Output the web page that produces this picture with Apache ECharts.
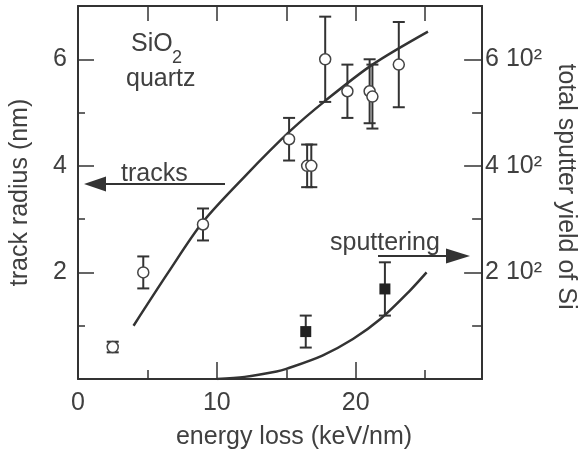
<!DOCTYPE html>
<html>
<head>
<meta charset="utf-8">
<script src="https://cdn.jsdelivr.net/npm/echarts@6/dist/echarts.min.js"></script>
<style>html,body{margin:0;padding:0;background:#fff;overflow:hidden}#c{width:586px;height:458px}</style>
</head>
<body>
<div id="c"></div>
<script>
// ---- data ----
const trackX   = [2.5, 4.7, 9.0, 15.2, 16.5, 16.8, 17.8, 19.4, 21.0, 21.2, 23.1];
const trackY   = [0.6, 2.0, 2.9, 4.5, 4.0, 4.0, 6.0, 5.4, 5.4, 5.3, 5.9];
const trackErr = [0.1, 0.3, 0.3, 0.4, 0.4, 0.4, 0.8, 0.5, 0.6, 0.6, 0.8];

const trackFitX = [4.0, 6.5, 9.0, 12.0, 15.3, 17.8, 21.2, 25.2];
const trackFitY = [1.0, 2.0, 2.95, 3.8, 4.66, 5.22, 5.9, 6.52];

const sputX   = [16.4, 22.1];
const sputY   = [89, 169];
const sputErr = [30, 50];

const sputFitX = [10, 12, 14.3, 15, 17.6, 19.8, 21.8, 23.8, 25.1];
const sputFitY = [0, 4, 14, 19, 44, 75, 113, 163, 200];

const xTicksMajor = [0, 10, 20];
const leftTickLabels = ['2', '4', '6'];
const rightTickLabels = ['2 10²', '4 10²', '6 10²'];

// ---- chart ----
const FONT = 'Liberation Sans, Arial, Helvetica, sans-serif';
const TXT = '#404040';
const LINE = '#333';
const FS = 25;

const zip = (a, b, c) => a.map((v, i) => c ? [v, b[i], c[i]] : [v, b[i]]);

function errRender(params, api) {
  const x = api.value(0), y = api.value(1), e = api.value(2);
  const t = api.coord([x, y + e]);
  const b = api.coord([x, y - e]);
  const w = 6;
  const st = {stroke: LINE, lineWidth: 2};
  return {type: 'group', children: [
    {type: 'line', shape: {x1: t[0], y1: t[1], x2: b[0], y2: b[1]}, style: st},
    {type: 'line', shape: {x1: t[0] - w, y1: t[1], x2: t[0] + w, y2: t[1]}, style: st},
    {type: 'line', shape: {x1: b[0] - w, y1: b[1], x2: b[0] + w, y2: b[1]}, style: st}
  ]};
}

const chart = echarts.init(document.getElementById('c'), null, {renderer: 'canvas'});
const axisLineStyle = {show: true, onZero: false, lineStyle: {color: LINE, width: 2}};
const noLine = {show: false, onZero: false};
const labelStyle = {color: TXT, fontSize: FS, fontFamily: FONT};

chart.setOption({
  animation: false,
  backgroundColor: '#fff',
  textStyle: {fontFamily: FONT},
  grid: {left: 78, right: 96, top: 6, bottom: 79},
  xAxis: [
    {type: 'value', position: 'bottom', min: 0, max: 29.1, interval: 10,
     axisLine: axisLineStyle, splitLine: {show: false},
     axisTick: {inside: true, length: 17, lineStyle: {color: LINE, width: 1.5}},
     axisLabel: Object.assign({margin: 12, showMaxLabel: false,
       formatter: v => xTicksMajor.includes(v) ? String(v) : ''}, labelStyle),
     name: 'energy loss (keV/nm)', nameLocation: 'middle', nameGap: 46,
     nameTextStyle: {color: TXT, fontSize: FS, fontFamily: FONT, padding: [0, 0, 0, 28]}},
    {type: 'value', position: 'bottom', min: 0, max: 29.1, interval: 5,
     axisLine: noLine, splitLine: {show: false}, axisLabel: {show: false},
     axisTick: {inside: true, length: 9, lineStyle: {color: LINE, width: 1.5}}},
    {type: 'value', position: 'top', min: 0, max: 29.1, interval: 5,
     axisLine: axisLineStyle, splitLine: {show: false}, axisLabel: {show: false},
     axisTick: {inside: true, length: 15, lineStyle: {color: LINE, width: 1.5}}}
  ],
  yAxis: [
    {type: 'value', position: 'left', min: 0, max: 7, interval: 2,
     axisLine: axisLineStyle, splitLine: {show: false},
     axisTick: {inside: true, length: 16, lineStyle: {color: LINE, width: 1.5}},
     axisLabel: Object.assign({margin: 11, showMinLabel: false, showMaxLabel: false,
       formatter: v => (v > 0 && v % 2 === 0 && v <= 6) ? leftTickLabels[v / 2 - 1] : ''}, labelStyle),
     name: 'track radius (nm)', nameLocation: 'middle', nameGap: 45,
     nameTextStyle: {color: TXT, fontSize: FS, fontFamily: FONT}},
    {type: 'value', position: 'left', min: 0, max: 7, interval: 1,
     axisLine: noLine, splitLine: {show: false}, axisLabel: {show: false},
     axisTick: {inside: true, length: 7, lineStyle: {color: LINE, width: 1.5}}},
    {type: 'value', position: 'right', min: 0, max: 700, interval: 200,
     axisLine: axisLineStyle, splitLine: {show: false},
     axisTick: {inside: true, length: 18, lineStyle: {color: LINE, width: 1.5}},
     axisLabel: Object.assign({margin: 3, showMinLabel: false, showMaxLabel: false,
       formatter: v => (v > 0 && v <= 600) ? rightTickLabels[v / 200 - 1] : ''}, labelStyle),
     name: 'total sputter yield of Si', nameLocation: 'middle', nameGap: 70, nameRotate: -90,
     nameTextStyle: {color: TXT, fontSize: FS, fontFamily: FONT, padding: [0, 12, 0, 0]}},
    {type: 'value', position: 'right', min: 0, max: 700, interval: 100,
     axisLine: noLine, splitLine: {show: false}, axisLabel: {show: false},
     axisTick: {inside: true, length: 10, lineStyle: {color: LINE, width: 1.5}}}
  ],
  series: [
    {type: 'line', xAxisIndex: 0, yAxisIndex: 0, data: zip(trackFitX, trackFitY),
     showSymbol: false, smooth: 0.3, lineStyle: {color: LINE, width: 2.5}, z: 2},
    {type: 'line', xAxisIndex: 0, yAxisIndex: 2, data: zip(sputFitX, sputFitY),
     showSymbol: false, smooth: 0.3, lineStyle: {color: LINE, width: 2.5}, z: 2},
    {type: 'custom', xAxisIndex: 0, yAxisIndex: 0, data: zip(trackX, trackY, trackErr),
     renderItem: errRender, z: 3},
    {type: 'custom', xAxisIndex: 0, yAxisIndex: 2, data: zip(sputX, sputY, sputErr),
     renderItem: errRender, z: 3},
    {type: 'scatter', xAxisIndex: 0, yAxisIndex: 0, data: zip(trackX, trackY),
     symbol: 'circle', symbolSize: 11,
     itemStyle: {color: '#fff', borderColor: '#444', borderWidth: 1.5, opacity: 1}, z: 4},
    {type: 'scatter', xAxisIndex: 0, yAxisIndex: 2, data: zip(sputX, sputY),
     symbol: 'rect', symbolSize: 11, itemStyle: {color: '#222', opacity: 1}, z: 4}
  ],
  graphic: [
    {type: 'text', left: 131, top: 32, style: {text: 'SiO', fontSize: FS, fontFamily: FONT, fill: TXT}},
    {type: 'text', left: 172, top: 49, style: {text: '2', fontSize: 18, fontFamily: FONT, fill: TXT}},
    {type: 'text', left: 126, top: 67, style: {text: 'quartz', fontSize: FS, fontFamily: FONT, fill: TXT}},
    {type: 'text', left: 121, top: 162, style: {text: 'tracks', fontSize: FS, fontFamily: FONT, fill: TXT}},
    {type: 'text', left: 330, top: 231, style: {text: 'sputtering', fontSize: FS, fontFamily: FONT, fill: TXT}},
    {type: 'line', shape: {x1: 104, y1: 184, x2: 225, y2: 184}, style: {stroke: LINE, lineWidth: 2}},
    {type: 'polygon', shape: {points: [[84, 184], [106, 176.5], [106, 191.5]]}, style: {fill: LINE}},
    {type: 'line', shape: {x1: 378, y1: 256, x2: 448, y2: 256}, style: {stroke: LINE, lineWidth: 2}},
    {type: 'polygon', shape: {points: [[470, 256], [446, 248.5], [446, 263.5]]}, style: {fill: LINE}}
  ]
});
</script>
</body>
</html>
